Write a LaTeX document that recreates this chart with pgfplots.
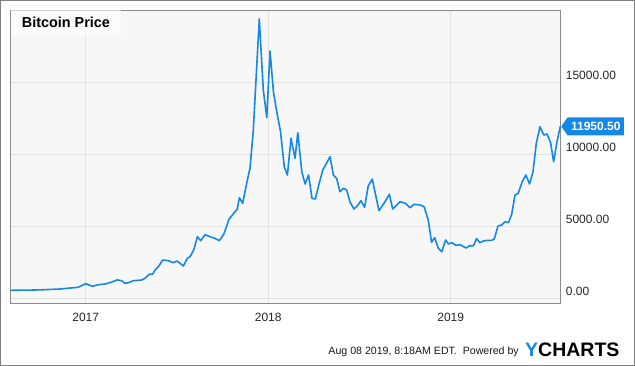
\documentclass[border=0pt]{standalone}
\usepackage{fontspec}
\setmainfont{Liberation Sans}
\usepackage{pgfplots}
\pgfplotsset{compat=1.18}
\usetikzlibrary{shapes.symbols}
\definecolor{btcblue}{RGB}{20,136,230}
\definecolor{plotbg}{RGB}{247,247,247}
\definecolor{gridc}{RGB}{226,226,226}
\definecolor{framec}{RGB}{140,140,140}
\definecolor{outerc}{RGB}{128,128,128}
\begin{document}
\begin{tikzpicture}
\useasboundingbox (0pt,0pt) rectangle (635pt,366pt);
\fill[white] (0pt,0pt) rectangle (635pt,366pt);
\draw[outerc, line width=1.2pt] (0.8pt,0.8pt) rectangle (634.2pt,365.2pt);
\begin{axis}[
  at={(10pt,63pt)}, anchor=south west,
  scale only axis, width=550.3pt, height=293pt,
  xmin=2016.585, xmax=2019.6005,
  ymin=-312, ymax=20035,
  clip=false,
  axis background/.style={fill=plotbg},
  axis line style={framec, line width=0.9pt},
  grid=major, major grid style={gridc, line width=0.8pt},
  major tick length=0pt,
  xtick={2017,2018,2019}, xticklabels={2017,2018,2019},
  ytick={0,5000,10000,15000},
  scaled y ticks=false,
  yticklabel pos=right,
  /pgf/number format/assume math mode=true,
  yticklabel={\pgfmathprintnumber[fixed,fixed zerofill,precision=2,1000 sep={}]{\tick}},
  yticklabel style={anchor=base west, inner sep=0pt, xshift=5.4pt, yshift=3.4pt, font=\fontsize{12}{14}\selectfont, text=black!85},
  xticklabel style={anchor=base, inner sep=0pt, yshift=-18.7pt, font=\fontsize{12}{14}\selectfont, text=black!85},
]
\addplot[btcblue, line width=1.6pt, line join=round, mark=none] table {
x y
2016.589 569
2016.700 585
2016.750 600
2016.859 660
2016.958 778
2017.000 1028
2017.036 847
2017.069 958
2017.106 1007
2017.133 1100
2017.173 1290
2017.197 1236
2017.215 1055
2017.233 1097
2017.261 1236
2017.307 1285
2017.325 1403
2017.348 1680
2017.367 1701
2017.380 1979
2017.398 2208
2017.422 2673
2017.453 2625
2017.480 2486
2017.499 2604
2017.517 2444
2017.535 2257
2017.557 2791
2017.572 2903
2017.593 3416
2017.612 4291
2017.630 4014
2017.654 4430
2017.681 4291
2017.708 4180
2017.732 4014
2017.758 4500
2017.785 5500
2017.810 5900
2017.830 6200
2017.842 7000
2017.860 6611
2017.882 8000
2017.900 9041
2017.918 11630
2017.951 19410
2017.973 14478
2017.992 12569
2018.010 17186
2018.029 14300
2018.050 12742
2018.067 11631
2018.088 9131
2018.105 8576
2018.125 11124
2018.147 9735
2018.162 11514
2018.184 8805
2018.202 7951
2018.221 8576
2018.240 6950
2018.258 6909
2018.277 7881
2018.299 8923
2018.339 9846
2018.357 8576
2018.375 8347
2018.393 7416
2018.412 7652
2018.430 7534
2018.448 6700
2018.470 6215
2018.488 6423
2018.508 6791
2018.528 6333
2018.548 7812
2018.570 8291
2018.607 6097
2018.640 6722
2018.664 7236
2018.682 6215
2018.722 6722
2018.752 6611
2018.777 6305
2018.799 6541
2018.832 6493
2018.854 6375
2018.877 5451
2018.895 3903
2018.912 4222
2018.932 3486
2018.951 3250
2018.972 4062
2018.988 3785
2019.007 3875
2019.029 3694
2019.051 3736
2019.084 3507
2019.103 3660
2019.124 3660
2019.142 4153
2019.160 3875
2019.179 3993
2019.203 4041
2019.225 4041
2019.239 4146
2019.259 5034
2019.279 5104
2019.298 5333
2019.316 5264
2019.334 5833
2019.352 7187
2019.370 7305
2019.392 8111
2019.412 8576
2019.432 7951
2019.451 8805
2019.469 10777
2019.489 11930
2019.510 11353
2019.528 11423
2019.547 10833
2019.564 9499
2019.582 10867
2019.6005 11950.5
} node[pos=1, signal, signal to=west, signal pointer angle=110, fill=btcblue, text=white,
      anchor=west, inner xsep=3.5pt, inner ysep=0pt, minimum height=18pt,
      font=\bfseries\fontsize{12}{14}\selectfont] {11950.50};
\end{axis}
\fill[white, opacity=0.6] (10.5pt,330.3pt) rectangle (120.7pt,355.5pt);
\node[anchor=base west, inner sep=0pt, font=\bfseries\fontsize{14.4}{16}\selectfont] at (21.7pt,338.7pt) {Bitcoin Price};
\node[anchor=base east, inner sep=0pt, font=\fontsize{10.6}{12}\selectfont, text=black!90] at (519pt,11pt) {Aug 08 2019, 8:18AM EDT.\ \ Powered by};
\node[anchor=base west, inner sep=0pt, font=\bfseries\fontsize{19.5}{22}\selectfont] at (525pt,9.3pt) {\textcolor{btcblue}{Y}CHARTS};
\end{tikzpicture}
\end{document}
